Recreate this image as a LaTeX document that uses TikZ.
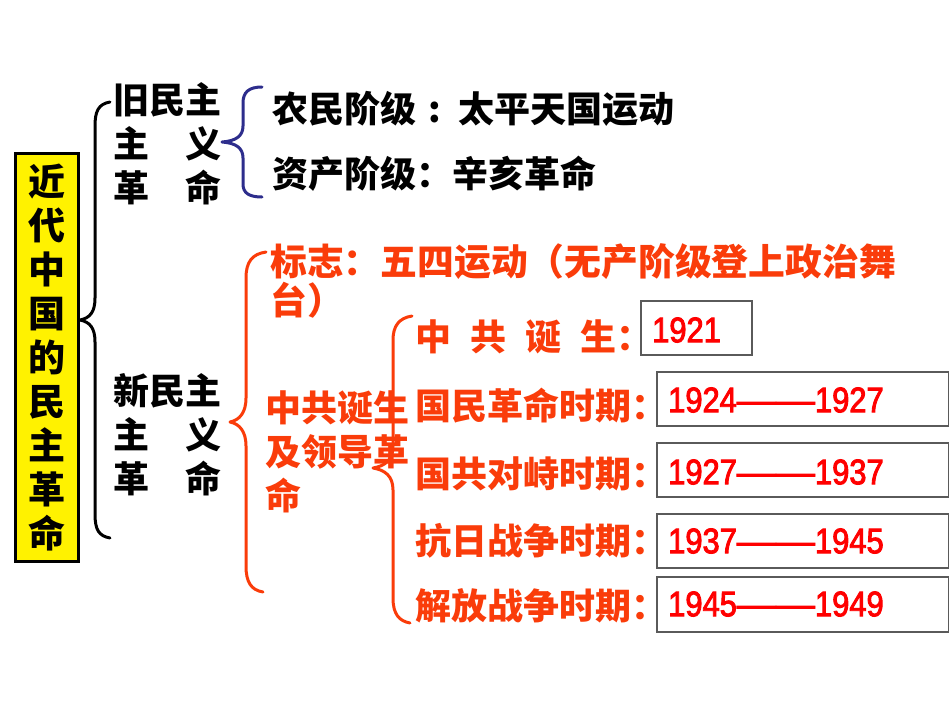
\documentclass[tikz,border=0pt]{standalone}
\usepackage{fontspec}
\setmainfont{Noto Sans CJK SC}
\newfontfamily\numfont{Liberation Sans}[FakeStretch=0.87,FakeBold=2.5]
\newfontfamily\dashfont{Liberation Sans}[FakeStretch=1.1,FakeBold=2.5]
\definecolor{orng}{RGB}{250,60,10}
\definecolor{numred}{RGB}{255,0,0}
\definecolor{bracenavy}{RGB}{45,45,140}
\definecolor{boxgray}{RGB}{90,90,90}
\tikzset{
  cjk/.style={font=\bfseries\fontsize{36}{44}\selectfont, inner sep=0pt, anchor=west},
  cjko/.style={cjk, text=orng},
  numtxt/.style={font=\numfont\fontsize{35.5}{40}\selectfont, text=numred, inner sep=0pt, anchor=west},
  yearbox/.style={draw=boxgray, line width=1.5pt},
  bracepath/.style={line width=3pt, line cap=round, line join=round},
}
\newcommand{\yrdash}{{\dashfont\fontsize{35.5}{40}\selectfont ——}}
\begin{document}
\begin{tikzpicture}[x=1pt,y=-1pt]
\useasboundingbox (0,0) rectangle (950,713);
\fill[white] (0,0) rectangle (950,713);

% title box
\node[draw=black, line width=3pt, fill=yellow, minimum width=63pt, minimum height=408pt,
      inner sep=0pt, align=center, font=\bfseries\fontsize{37}{44}\selectfont] (title) at (47,357.5)
  {近\\代\\中\\国\\的\\民\\主\\革\\命};

% black brace
\coordinate (bt) at (110,102);
\coordinate (btip) at (80,320);
\coordinate (bb) at (110,538);
\draw[bracepath, black] (bt) .. controls (98,104) and (95,112) .. (95,126) -- (95,298)
  .. controls (95,312) and (90,318) .. (btip) .. controls (90,322) and (95,328) .. (95,342)
  -- (95,514) .. controls (95,530) and (99,536) .. (bb);

% old / new democratic revolution
\node[cjk, align=left] (old) at (113,144) {旧民主\\主　义\\革　命};
\node[cjk, align=left] (new) at (113,435) {新民主\\主　义\\革　命};

% blue brace
\coordinate (ut) at (262,87);
\coordinate (utip) at (222,142);
\coordinate (ub) at (262,197);
\draw[bracepath, bracenavy] (ut) .. controls (249,87) and (243,92) .. (243,103) -- (243,126)
  .. controls (243,136) and (236,141) .. (utip) .. controls (236,143) and (243,148) .. (243,158)
  -- (243,184) .. controls (243,193) and (249,197) .. (ub);

\node[cjk] (peasant) at (272,109) {农民阶级\hspace{12pt}:\hspace{18pt}太平天国运动};
\node[cjk] (bourg) at (272,174) {资产阶级：辛亥革命};

% big orange brace
\coordinate (ot) at (266,252);
\coordinate (otip) at (230,422);
\coordinate (ob) at (263,592);
\draw[bracepath, orng] (ot) .. controls (252,254) and (246,262) .. (246,278) -- (246,398)
  .. controls (246,412) and (240,420) .. (otip) .. controls (240,424) and (246,432) .. (246,446)
  -- (246,566) .. controls (246,582) and (251,590) .. (ob);

\node[cjko, font=\bfseries\fontsize{36.8}{44}\selectfont] (mark1) at (270,262) {标志：五四运动（无产阶级登上政治舞};
\node[cjko, font=\bfseries\fontsize{36.8}{44}\selectfont] (mark2) at (270,300) {台）};
\node[cjko, align=left] (cpc) at (265,452) {中共诞生\\及领导革\\命};

% inner orange brace
\coordinate (it) at (412,316);
\coordinate (itip) at (373,468);
\coordinate (ib) at (410,623);
\draw[bracepath, orng] (it) .. controls (399,318) and (393,326) .. (393,340) -- (393,446)
  .. controls (393,460) and (385,466) .. (itip) .. controls (385,470) and (393,476) .. (393,490)
  -- (393,598) .. controls (393,614) and (399,621) .. (ib);

\node[cjko] (p0) at (415,337) {中\hspace{19pt}共\hspace{19pt}诞\hspace{19pt}生：};
\node[cjko] (p1) at (415,406) {国民革命时期：};
\node[cjko] (p2) at (415,474) {国共对峙时期：};
\node[cjko] (p3) at (415,541) {抗日战争时期：};
\node[cjko] (p4) at (415,606) {解放战争时期：};

% year boxes
\draw[yearbox] (641,301) rectangle (752,355);
\draw[yearbox] (657,372) rectangle (948.5,426);
\draw[yearbox] (657,443) rectangle (948.5,497);
\draw[yearbox] (657,514) rectangle (948.5,568);
\draw[yearbox] (657,577) rectangle (948.5,632);

\node[numtxt] (y0) at (652,330) {1921};
\node[numtxt] (y1) at (668,400) {1924\yrdash 1927};
\node[numtxt] (y2) at (668,472) {1927\yrdash 1937};
\node[numtxt] (y3) at (668,541) {1937\yrdash 1945};
\node[numtxt] (y4) at (668,604) {1945\yrdash 1949};
\end{tikzpicture}
\end{document}
